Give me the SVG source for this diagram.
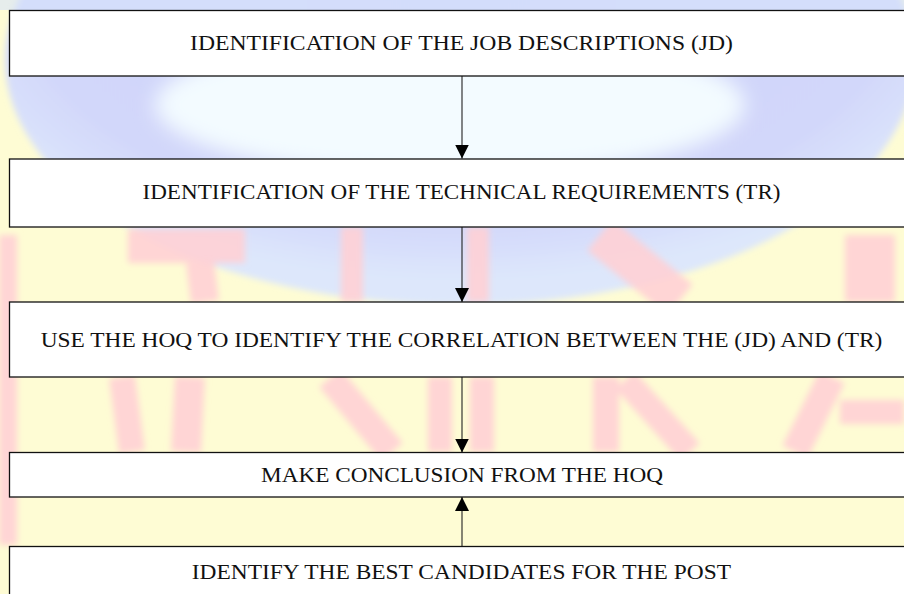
<svg xmlns="http://www.w3.org/2000/svg" width="904" height="594" viewBox="0 0 904 594">
<defs>
<style>
.box{fill:#ffffff;stroke:#111111;stroke-width:1.3}
.lbl{font-family:"Liberation Serif","Times New Roman",serif;font-size:22px;fill:#111111}
.conn{stroke:#222222;stroke-width:1.1;fill:none}
.pk{stroke:#ffd0d5;stroke-opacity:0.9;fill:none;stroke-linecap:butt}
</style>
<filter id="soft" x="-10%" y="-10%" width="120%" height="120%"><feGaussianBlur stdDeviation="3"/></filter>
<filter id="soft2" x="-20%" y="-20%" width="140%" height="140%"><feGaussianBlur stdDeviation="10"/></filter>
<radialGradient id="globe" cx="0.5" cy="0.35" r="0.6">
<stop offset="0" stop-color="#d0d5fb"/>
<stop offset="0.8" stop-color="#d2d7fa"/>
<stop offset="1" stop-color="#dde7fb"/>
</radialGradient>
<marker id="ah" markerUnits="userSpaceOnUse" markerWidth="14" markerHeight="14" refX="14" refY="7" orient="auto">
<path d="M0,0 L14,7 L0,14 Z" fill="#000000"/>
</marker>
</defs>

<g id="watermark">
<rect x="0" y="0" width="904" height="594" fill="#fefcd4"/>
<ellipse cx="460" cy="60" rx="455" ry="245" fill="url(#globe)" filter="url(#soft)"/>
<ellipse cx="450" cy="105" rx="295" ry="72" fill="#f3fbff" filter="url(#soft2)"/>
<rect x="0" y="0" width="904" height="10" fill="#d6e3fb" opacity="0.6"/>
<g filter="url(#soft)">
<line class="pk" x1="8" y1="235" x2="8" y2="545" stroke-width="18"/>
<line class="pk" x1="128" y1="246" x2="245" y2="246" stroke-width="34"/>
<line class="pk" x1="200" y1="262" x2="205" y2="302" stroke-width="28"/>
<line class="pk" x1="122" y1="377" x2="132" y2="452" stroke-width="26"/>
<line class="pk" x1="190" y1="377" x2="186" y2="452" stroke-width="30"/>
<line class="pk" x1="352" y1="227" x2="352" y2="302" stroke-width="22"/>
<line class="pk" x1="330" y1="378" x2="392" y2="452" stroke-width="28"/>
<line class="pk" x1="440" y1="377" x2="440" y2="452" stroke-width="24"/>
<line class="pk" x1="478" y1="227" x2="478" y2="302" stroke-width="22"/>
<line class="pk" x1="482" y1="377" x2="482" y2="452" stroke-width="24"/>
<line class="pk" x1="600" y1="235" x2="680" y2="300" stroke-width="40"/>
<line class="pk" x1="606" y1="377" x2="606" y2="452" stroke-width="26"/>
<line class="pk" x1="625" y1="380" x2="690" y2="452" stroke-width="26"/>
<line class="pk" x1="870" y1="235" x2="870" y2="302" stroke-width="50"/>
<line class="pk" x1="832" y1="377" x2="795" y2="452" stroke-width="28"/>
<line class="pk" x1="840" y1="412" x2="904" y2="412" stroke-width="24"/>
</g>
</g>

<g id="connectors">
<line class="conn" x1="462" y1="76" x2="462" y2="158.5" marker-end="url(#ah)"/>
<line class="conn" x1="462" y1="227" x2="462" y2="302" marker-end="url(#ah)"/>
<line class="conn" x1="462" y1="377" x2="462" y2="452.5" marker-end="url(#ah)"/>
<line class="conn" x1="462" y1="546.5" x2="462" y2="497" marker-end="url(#ah)"/>
</g>

<g id="n1">
<rect class="box" x="9.5" y="10.5" width="910" height="65.5"/>
<text class="lbl" x="190" y="50" textLength="543" lengthAdjust="spacingAndGlyphs">IDENTIFICATION OF THE JOB DESCRIPTIONS (JD)</text>
</g>
<g id="n2">
<rect class="box" x="9.5" y="159" width="910" height="68"/>
<text class="lbl" x="142.5" y="198.5" textLength="638" lengthAdjust="spacingAndGlyphs">IDENTIFICATION OF THE TECHNICAL REQUIREMENTS (TR)</text>
</g>
<g id="n3">
<rect class="box" x="9.5" y="302" width="910" height="75"/>
<text class="lbl" x="40.7" y="346.5" textLength="841.6" lengthAdjust="spacingAndGlyphs">USE THE HOQ TO IDENTIFY THE CORRELATION BETWEEN THE (JD) AND (TR)</text>
</g>
<g id="n4">
<rect class="box" x="9.5" y="452.5" width="910" height="44.5"/>
<text class="lbl" x="261" y="481.5" textLength="402" lengthAdjust="spacingAndGlyphs">MAKE CONCLUSION FROM THE HOQ</text>
</g>
<g id="n5">
<rect class="box" x="9.5" y="546.5" width="910" height="52"/>
<text class="lbl" x="191.7" y="579" textLength="539.3" lengthAdjust="spacingAndGlyphs">IDENTIFY THE BEST CANDIDATES FOR THE POST</text>
</g>
</svg>
